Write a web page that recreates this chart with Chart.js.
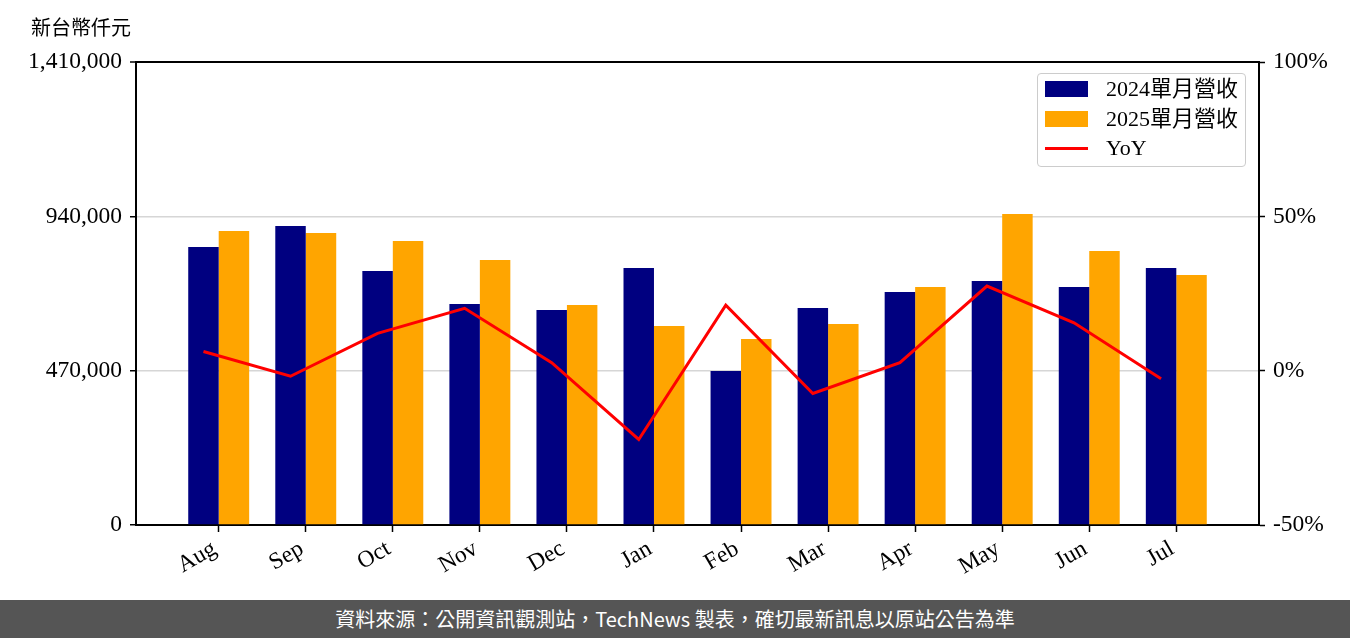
<!DOCTYPE html>
<html lang="zh-Hant">
<head>
<meta charset="utf-8">
<script src="https://cdn.jsdelivr.net/npm/chart.js@4.4.1/dist/chart.umd.min.js"></script>
<style>
  body { margin: 0; width: 1350px; height: 638px; background: #fff; overflow: hidden; }
  #wrap { position: relative; width: 1350px; height: 600px; }
  #unit { position: absolute; left: 31px; top: 16px; font: 20px/22px 'Noto Sans CJK TC', sans-serif; color: #000; }
  #legend { position: absolute; left: 1037px; top: 73px; width: 207px; height: 92px;
            border: 1px solid #ccc; border-radius: 4px; background: rgba(255,255,255,0.8); }
  .mark { position: absolute; left: 7px; width: 43px; }
  .txt { position: absolute; left: 68px; font: 22px/26px 'Liberation Serif', 'Noto Sans CJK TC', serif; color: #000; white-space: nowrap; }
  #footer { height: 38px; background: #555; color: #fff; text-align: center;
            font: 20px/38px 'Noto Sans CJK TC', sans-serif; }
</style>
</head>
<body>
<div id="wrap">
  <canvas id="myChart" width="1350" height="600"></canvas>
  <div id="unit">新台幣仟元</div>
  <div id="legend"></div>
</div>
<div id="footer" lang="zh-Hant">資料來源：公開資訊觀測站，TechNews 製表，確切最新訊息以原站公告為準</div>
<script>
// values
var months = ['Aug', 'Sep', 'Oct', 'Nov', 'Dec', 'Jan', 'Feb', 'Mar', 'Apr', 'May', 'Jun', 'Jul'];
var rev2024 = [846600, 910600, 773500, 673000, 654800, 782700, 469000, 660800, 709600, 743000, 724800, 782700];
var rev2025 = [895300, 889300, 864900, 807000, 670000, 606000, 566400, 612100, 724800, 947100, 834400, 761400];
var yoy = [6.2, -1.8, 12.1, 20.2, 2.6, -22.3, 21.2, -7.4, 2.6, 27.4, 15.5, -2.6];
var leftTicks = [0, 470000, 940000, 1410000];
var rightTicks = [-50, 0, 50, 100];

var BAR_W = 0.35; // width of one bar in category units
var tickFont = { family: "'Liberation Serif', 'DejaVu Serif', serif", size: 23.5 };

var setTicks = function (list) {
    return function (scale) {
        scale.ticks = list.map(function (v) { return { value: v }; });
    };
};

var ctx = document.getElementById('myChart');

var chart = new Chart(ctx, {
    type: 'bar',
    data: {
        datasets: [
            {
                type: 'line',
                label: 'YoY',
                data: yoy.map(function (v, i) { return { x: i - BAR_W / 2, y: v }; }),
                borderColor: '#ff0000',
                backgroundColor: '#ff0000',
                borderWidth: 3,
                pointRadius: 0,
                tension: 0,
                yAxisID: 'y1',
                order: 0
            },
            {
                label: '2024單月營收',
                data: rev2024.map(function (v, i) { return { x: i, y: v }; }),
                backgroundColor: '#000080',
                barPercentage: 1,
                categoryPercentage: BAR_W * 2,
                yAxisID: 'y',
                order: 1
            },
            {
                label: '2025單月營收',
                data: rev2025.map(function (v, i) { return { x: i, y: v }; }),
                backgroundColor: '#ffa500',
                barPercentage: 1,
                categoryPercentage: BAR_W * 2,
                yAxisID: 'y',
                order: 1
            }
        ]
    },
    options: {
        responsive: false,
        animation: false,
        devicePixelRatio: 1,
        layout: { padding: { top: 62, left: 0, right: 0, bottom: 0 } },
        plugins: {
            legend: { display: false },
            tooltip: { enabled: false }
        },
        scales: {
            x: {
                type: 'linear',
                min: -0.95,
                max: 11.95,
                offset: false,
                afterFit: function (s) { s.height = 75; },
                afterBuildTicks: setTicks(months.map(function (m, i) { return i; })),
                grid: { drawOnChartArea: false, offset: false, tickLength: 7, tickColor: '#000', tickWidth: 1.5 },
                border: { color: '#000', width: 2 },
                ticks: {
                    font: tickFont,
                    color: '#000',
                    minRotation: 30,
                    maxRotation: 30,
                    padding: 3,
                    labelOffset: -4,
                    callback: function (v, i) { return months[i]; }
                }
            },
            y: {
                position: 'left',
                min: 0,
                max: 1410000,
                afterFit: function (s) { s.width = 136; },
                afterBuildTicks: setTicks(leftTicks),
                grid: {
                    color: function (c) { return c.tick && c.tick.value === 1410000 ? '#000' : '#d6d6d6'; },
                    lineWidth: function (c) { return c.tick && c.tick.value === 1410000 ? 2 : 1.5; },
                    tickColor: '#000',
                    tickLength: 6,
                    tickWidth: 1.5
                },
                border: { color: '#000', width: 2 },
                ticks: {
                    font: tickFont,
                    color: '#000',
                    padding: 8,
                    callback: function (v) { return v.toLocaleString('en-US'); }
                }
            },
            y1: {
                position: 'right',
                min: -50,
                max: 100,
                afterFit: function (s) { s.width = 91; },
                afterBuildTicks: setTicks(rightTicks),
                grid: { drawOnChartArea: false, tickColor: '#000', tickLength: 6, tickWidth: 1.5 },
                border: { color: '#000', width: 2 },
                ticks: {
                    font: tickFont,
                    color: '#000',
                    padding: 8,
                    callback: function (v) { return v + '%'; }
                }
            }
        }
    }
});

// legend box in the top right corner, built from the datasets
var legend = document.getElementById('legend');
var order = [1, 2, 0];
order.forEach(function (di, row) {
    var ds = chart.data.datasets[di];
    var cy = 15 + row * 29.5;
    var mark = document.createElement('div');
    mark.className = 'mark';
    if (ds.type === 'line') {
        mark.style.top = (cy - 1.5) + 'px';
        mark.style.height = '3px';
        mark.style.background = ds.borderColor;
    } else {
        mark.style.top = (cy - 8) + 'px';
        mark.style.height = '16px';
        mark.style.background = ds.backgroundColor;
    }
    var txt = document.createElement('div');
    txt.className = 'txt';
    txt.style.top = (cy - 13) + 'px';
    txt.textContent = ds.label;
    legend.appendChild(mark);
    legend.appendChild(txt);
});
</script>
</body>
</html>
